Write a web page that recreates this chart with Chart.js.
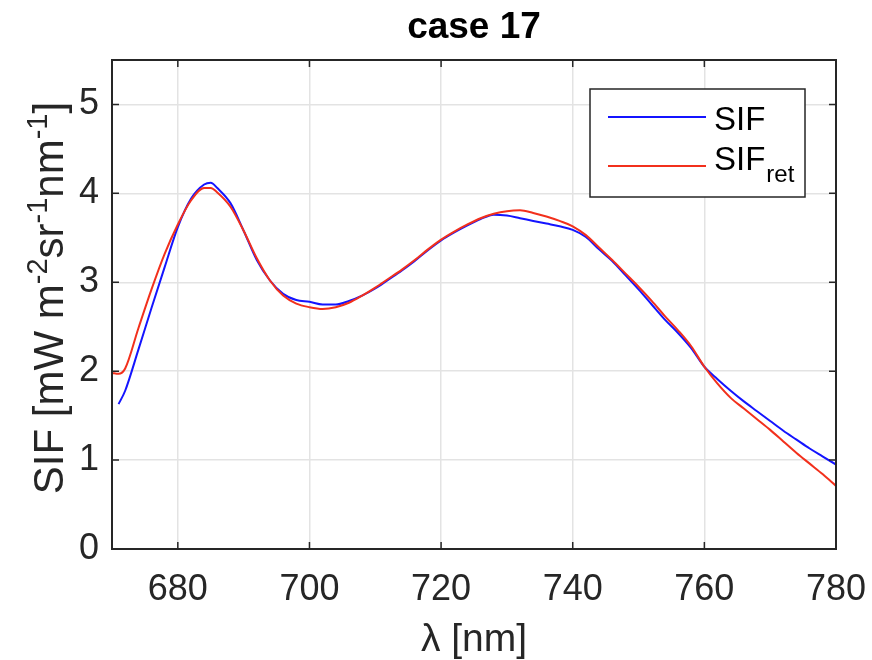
<!DOCTYPE html>
<html>
<head>
<meta charset="utf-8">
<script src="https://cdn.jsdelivr.net/npm/chart.js@4"></script>
<style>
  html, body { margin: 0; padding: 0; background: #fff; }
  #wrap { width: 872px; height: 660px; }
</style>
</head>
<body>
<div id="wrap"><canvas id="sifChart"></canvas></div>
<script>
// wavelength grid [nm] and the two spectra
const wavelength = [670, 671, 672, 674, 676, 678, 680, 682, 684, 685, 686, 688, 690, 692, 694, 696, 698, 700,
  702, 704, 706, 708, 710, 712, 714, 716, 718, 720, 722, 724, 726, 728, 730, 732, 734, 736, 738, 740,
  742, 744, 746, 748, 750, 752, 754, 756, 758, 760, 762, 764, 766, 768, 770, 772, 774, 776, 778, 780];

const sifTrue = [null, 1.63, 1.78, 2.24, 2.71, 3.17, 3.62, 3.94, 4.10, 4.12, 4.06, 3.89, 3.58, 3.25, 3.02, 2.87, 2.80, 2.78,
  2.75, 2.75, 2.79, 2.85, 2.93, 3.03, 3.13, 3.24, 3.36, 3.47, 3.56, 3.64, 3.71, 3.76, 3.75, 3.72, 3.69, 3.66, 3.63, 3.59,
  3.51, 3.37, 3.24, 3.08, 2.92, 2.75, 2.58, 2.43, 2.26, 2.05, 1.91, 1.78, 1.66, 1.55, 1.44, 1.33, 1.23, 1.13, 1.04, 0.95];

const sifRet = [1.98, 1.97, 2.03, 2.48, 2.92, 3.32, 3.65, 3.92, 4.06, 4.06, 4.01, 3.85, 3.58, 3.27, 3.02, 2.85, 2.76, 2.72,
  2.70, 2.72, 2.77, 2.85, 2.94, 3.04, 3.14, 3.25, 3.37, 3.48, 3.57, 3.65, 3.72, 3.77, 3.80, 3.81, 3.78, 3.74, 3.69, 3.63,
  3.53, 3.39, 3.25, 3.10, 2.95, 2.79, 2.62, 2.46, 2.28, 2.05, 1.86, 1.70, 1.58, 1.46, 1.34, 1.21, 1.08, 0.96, 0.84, 0.71];

const xTicks = [680, 700, 720, 740, 760, 780];
const yTicks = [0, 1, 2, 3, 4, 5];

const FONT = '"Liberation Sans", Arial, Helvetica, sans-serif';
const AXIS_COLOR = '#262626';
const BLUE = '#1414ff';
const RED = '#f2301c';

function toPoints(values) {
  return wavelength.map((w, i) => ({ x: w, y: values[i] }));
}

// box with inward ticks like matlab
const framePlugin = {
  id: 'frame',
  afterDraw(chart) {
    const { ctx, chartArea: a, scales } = chart;
    ctx.save();
    ctx.strokeStyle = AXIS_COLOR;
    ctx.lineWidth = 1.5;
    ctx.beginPath();
    xTicks.forEach(v => {
      const px = scales.x.getPixelForValue(v);
      ctx.moveTo(px, a.bottom); ctx.lineTo(px, a.bottom - 7);
      ctx.moveTo(px, a.top); ctx.lineTo(px, a.top + 7);
    });
    yTicks.forEach(v => {
      const py = scales.y.getPixelForValue(v);
      ctx.moveTo(a.left, py); ctx.lineTo(a.left + 7, py);
      ctx.moveTo(a.right, py); ctx.lineTo(a.right - 7, py);
    });
    ctx.stroke();
    ctx.lineWidth = 2;
    ctx.strokeRect(a.left, a.top, a.right - a.left, a.bottom - a.top);
    ctx.restore();
  }
};

// legend box, SIF_ret needs a subscript so draw it by hand
const legendPlugin = {
  id: 'subLegend',
  afterDraw(chart) {
    const { ctx } = chart;
    const ds = chart.data.datasets;
    const x0 = 590, y0 = 89, w = 215, h = 108;
    ctx.save();
    ctx.fillStyle = '#fff';
    ctx.fillRect(x0, y0, w, h);
    ctx.strokeStyle = AXIS_COLOR;
    ctx.lineWidth = 1.5;
    ctx.strokeRect(x0, y0, w, h);

    const rows = [117, 166];
    rows.forEach((ry, i) => {
      ctx.strokeStyle = ds[i].borderColor;
      ctx.lineWidth = 2;
      ctx.beginPath();
      ctx.moveTo(608, ry); ctx.lineTo(706, ry);
      ctx.stroke();
    });

    ctx.fillStyle = '#000';
    ctx.textBaseline = 'alphabetic';
    ctx.font = '33px ' + FONT;
    ctx.fillText('SIF', 714, 130);
    ctx.fillText('SIF', 714, 170);
    const wSif = ctx.measureText('SIF').width;
    ctx.font = '24px ' + FONT;
    ctx.fillText('ret', 714 + wSif + 1, 182);
    ctx.restore();
  }
};

// rotated y label with superscripts
const yLabelPlugin = {
  id: 'yLabel',
  afterDraw(chart) {
    const { ctx } = chart;
    const parts = [['SIF [mW m', false], ['-2', true], ['sr', false], ['-1', true], ['nm', false], ['-1', true], [']', false]];
    const big = '42px ' + FONT;
    const small = '29px ' + FONT;
    ctx.save();
    ctx.fillStyle = AXIS_COLOR;
    ctx.textBaseline = 'alphabetic';
    let total = 0;
    parts.forEach(([t, sup]) => { ctx.font = sup ? small : big; total += ctx.measureText(t).width; });
    ctx.translate(63, 298);
    ctx.rotate(-Math.PI / 2);
    let x = -total / 2;
    parts.forEach(([t, sup]) => {
      ctx.font = sup ? small : big;
      ctx.fillText(t, x, sup ? -16 : 0);
      x += ctx.measureText(t).width;
    });
    ctx.restore();
  }
};

const ctx = document.getElementById('sifChart').getContext('2d');

new Chart(ctx, {
  type: 'line',
  data: {
    datasets: [
      {
        label: 'SIF',
        data: toPoints(sifTrue),
        borderColor: BLUE,
        borderWidth: 2,
        pointRadius: 0,
        cubicInterpolationMode: 'monotone',
        order: 2
      },
      {
        label: 'SIF_ret',
        data: toPoints(sifRet),
        borderColor: RED,
        borderWidth: 2,
        pointRadius: 0,
        cubicInterpolationMode: 'monotone',
        order: 1
      }
    ]
  },
  options: {
    responsive: true,
    maintainAspectRatio: false,
    animation: false,
    layout: { padding: { top: 0, right: 36, bottom: 0, left: 0 } },
    plugins: {
      legend: { display: false },
      tooltip: { enabled: false },
      title: {
        display: true,
        fullSize: false,
        text: 'case 17',
        color: '#000',
        font: { family: FONT, size: 37, weight: 'bold', lineHeight: 1.2 },
        padding: { top: 6, bottom: 9.6 }
      }
    },
    scales: {
      x: {
        type: 'linear',
        min: 670,
        max: 780,
        afterBuildTicks: s => { s.ticks = xTicks.map(v => ({ value: v })); },
        afterFit: s => { s.height = 111; s.paddingLeft = 0; s.paddingRight = 0; },
        border: { display: false },
        grid: { color: '#e3e3e3', lineWidth: 1.5, drawTicks: false },
        ticks: { color: AXIS_COLOR, font: { family: FONT, size: 36 }, padding: 19, maxRotation: 0, autoSkip: false },
        title: {
          display: true,
          text: 'λ [nm]',
          color: AXIS_COLOR,
          font: { family: FONT, size: 39, lineHeight: 1 },
          padding: { top: 0, bottom: 0 }
        }
      },
      y: {
        min: 0,
        max: 5.5,
        afterBuildTicks: s => { s.ticks = yTicks.map(v => ({ value: v })); },
        afterFit: s => { s.width = 112; s.paddingTop = 0; s.paddingBottom = 0; },
        border: { display: false },
        grid: { color: '#e3e3e3', lineWidth: 1.5, drawTicks: false },
        ticks: { color: AXIS_COLOR, font: { family: FONT, size: 36 }, padding: 13 }
      }
    }
  },
  plugins: [framePlugin, legendPlugin, yLabelPlugin]
});
</script>
</body>
</html>
